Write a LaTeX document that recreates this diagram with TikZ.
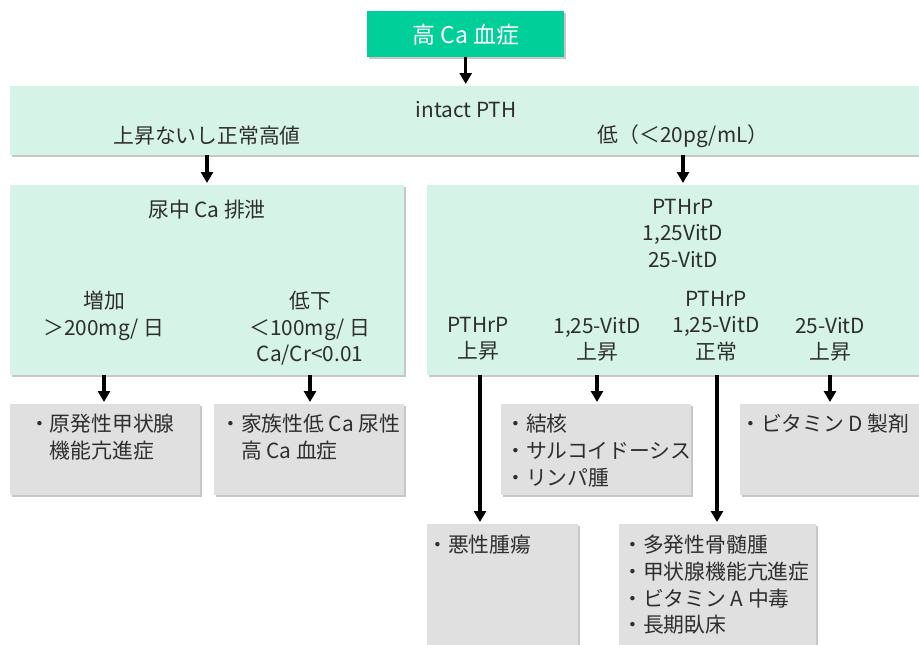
\documentclass[tikz,border=0pt]{standalone}
\usepackage{fontspec}
\setmainfont{Noto Sans CJK JP}
\usetikzlibrary{shadows,arrows.meta}
\definecolor{topg}{HTML}{00CF99}
\definecolor{lg}{HTML}{D5F3E6}
\definecolor{gr}{HTML}{E0E0E0}
\definecolor{tx}{HTML}{2E2E2E}
\begin{document}
\begin{tikzpicture}[x=1pt,y=-1pt,
  box/.style={draw=none, anchor=north west, inner sep=0pt,
    drop shadow={shadow xshift=1.5pt, shadow yshift=-1.5pt, fill=black, opacity=0.22}},
  txt/.style={text=tx, inner sep=0pt, font=\fontsize{20.8}{26.5}\selectfont, align=center},
  ltxt/.style={text=tx, inner sep=0pt, font=\fontsize{20.8}{26.7}\selectfont, align=left, anchor=north west},
  arr/.style={line width=3.4pt, -{Triangle[width=12pt,length=11pt]}, shorten >=2pt},
]
\useasboundingbox (0,0) rectangle (919,645);
\clip (0,0) rectangle (919,645);
% boxes
\node[box, fill=topg, minimum width=197pt, minimum height=46pt] (hyper) at (367,11) {};
\node[text=white, inner sep=0pt, font=\fontsize{23}{26}\selectfont] (hypert) at (466,35) {高 Ca 血症};
\node[box, fill=lg, minimum width=930pt, minimum height=69pt] (ptha) at (10,86) {};
\node[box, fill=lg, minimum width=394pt, minimum height=190pt] (left) at (10,185) {};
\node[box, fill=lg, minimum width=500pt, minimum height=190pt] (right) at (427,185) {};
\node[box, fill=gr, minimum width=190pt, minimum height=91pt] (g1) at (10,404) {};
\node[box, fill=gr, minimum width=190pt, minimum height=91pt] (g2) at (214,404) {};
\node[box, fill=gr, minimum width=190pt, minimum height=91pt] (g3) at (501,404) {};
\node[box, fill=gr, minimum width=190pt, minimum height=91pt] (g4) at (740,404) {};
\node[box, fill=gr, minimum width=151pt, minimum height=130pt] (g5) at (427,524) {};
\node[box, fill=gr, minimum width=197pt, minimum height=130pt] (g6) at (619,524) {};
% texts
\node[txt] (pt) at (466,110) {intact PTH};
\node[txt] (hil) at (207,136) {上昇ないし正常高値};
\node[txt] (lowl) at (683,136) {低（＜20pg/mL）};
\node[txt] (ca) at (207,210) {尿中 Ca 排泄};
\node[txt, anchor=north] (inc) at (104,291) {増加\\＞200mg/ 日};
\node[txt, anchor=north] (dec) at (310,291) {低下\\＜100mg/ 日\\Ca/Cr<0.01};
\node[txt, anchor=north] (rt) at (683,199) {PTHrP\\1,25VitD\\25-VitD};
\node[txt, anchor=north] (c1) at (478,317) {PTHrP\\上昇};
\node[txt, anchor=north] (c2) at (597,317) {1,25-VitD\\上昇};
\node[txt, anchor=north] (c3) at (716,291) {PTHrP\\1,25-VitD\\正常};
\node[txt, anchor=north] (c4) at (830,317) {25-VitD\\上昇};
\node[ltxt] at (29,414) {・原発性甲状腺\\\hspace*{20.8pt}機能亢進症};
\node[ltxt] at (220,414) {・家族性低 Ca 尿性\\\hspace*{20.8pt}高 Ca 血症};
\node[ltxt] at (505,414) {・結核\\・サルコイドーシス\\・リンパ腫};
\node[ltxt] at (740,414) {・ビタミン D 製剤};
\node[ltxt] at (427,535) {・悪性腫瘍};
\node[ltxt] at (622,535) {・多発性骨髄腫\\・甲状腺機能亢進症\\・ビタミン A 中毒\\・長期臥床};
% arrows
\draw[arr] (hyper.south) -- (hyper.south |- ptha.north);
\draw[arr] (hil |- ptha.south) -- (hil |- left.north);
\draw[arr] (lowl |- ptha.south) -- (lowl |- right.north);
\draw[arr] (inc |- left.south) -- (inc |- g1.north);
\draw[arr] (dec |- left.south) -- (dec |- g2.north);
\draw[arr] ([xshift=2pt]c1.south |- right.south) -- ([xshift=2pt]c1.south |- g5.north);
\draw[arr] (c2 |- right.south) -- (c2 |- g3.north);
\draw[arr] ([xshift=1pt]c3.south |- right.south) -- ([xshift=1pt]c3.south |- g6.north);
\draw[arr] (c4 |- right.south) -- (c4 |- g4.north);
\end{tikzpicture}
\end{document}
